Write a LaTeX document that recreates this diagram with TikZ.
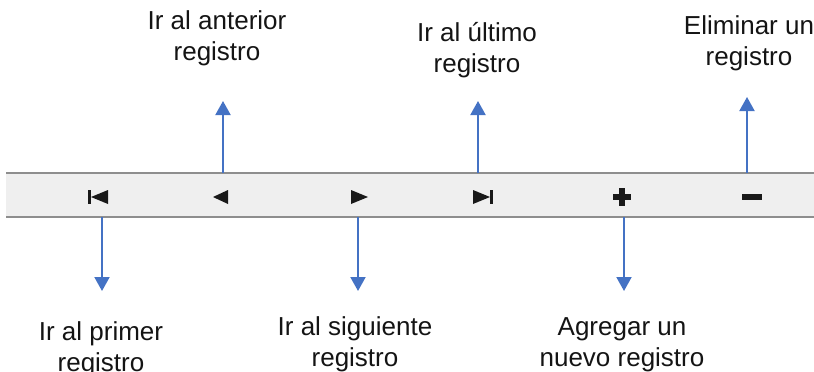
\documentclass[tikz,border=0pt]{standalone}
\usepackage{fontspec}
\setmainfont{Liberation Sans}
\usetikzlibrary{arrows.meta}
\definecolor{arrowblue}{HTML}{4472C4}
\definecolor{barfill}{HTML}{EFEFEF}
\definecolor{barline}{HTML}{8E8E8E}
\begin{document}
\begin{tikzpicture}[x=1pt,y=-1pt,
  lbl/.style={align=center,anchor=base,inner sep=0pt,font=\fontsize{26}{31}\selectfont,text=black!92},
  icon/.style={fill=black!90,draw=none},
  conn/.style={draw=arrowblue,line width=2pt,-{Triangle[length=14pt,width=15pt]}}]
\useasboundingbox (0,0) rectangle (814,372);
% toolbar
\fill[barfill] (6,173) rectangle (814,217);
\draw[barline,line width=2.5pt] (6,173) -- (814,173);
\draw[barline,line width=2.5pt] (6,217) -- (814,217);
% icons
\fill[icon] (88,190) rectangle (91,204);
\fill[icon] (91,197) -- (108,190) -- (108,204) -- cycle;
\fill[icon] (213,197) -- (228,190) -- (228,204) -- cycle;
\fill[icon] (368,197) -- (351,190) -- (351,204) -- cycle;
\fill[icon] (490,197) -- (473,190) -- (473,204) -- cycle;
\fill[icon] (490,190) rectangle (493,204);
\fill[icon] (619,188) rectangle (625,206);
\fill[icon] (613,194) rectangle (631,200);
\fill[icon] (742,194) rectangle (762,200);
% labels (anchor = baseline of last line)
\node[lbl] (lanterior) at (217,60) {Ir al anterior\\registro};
\node[lbl] (lultimo) at (477,72) {Ir al último\\registro};
\node[lbl] (leliminar) at (749,65) {Eliminar un\\registro};
\node[lbl] (lprimer) at (101,371) {Ir al primer\\registro};
\node[lbl] (lsiguiente) at (355,366) {Ir al siguiente\\registro};
\node[lbl] (lagregar) at (622,366) {Agregar un\\nuevo registro};
% arrow endpoints
\coordinate (tanterior) at (223,101);
\coordinate (tultimo) at (478,101);
\coordinate (teliminar) at (747,97);
\coordinate (tprimer) at (102,291);
\coordinate (tsiguiente) at (358,291);
\coordinate (tagregar) at (624,291);
\coordinate (santerior) at (223,173);
\coordinate (sultimo) at (478,173);
\coordinate (seliminar) at (747,173);
\coordinate (sprimer) at (102,217);
\coordinate (ssiguiente) at (358,217);
\coordinate (sagregar) at (624,217);
\draw[conn] (santerior) -- (tanterior);
\draw[conn] (sultimo) -- (tultimo);
\draw[conn] (seliminar) -- (teliminar);
\draw[conn] (sprimer) -- (tprimer);
\draw[conn] (ssiguiente) -- (tsiguiente);
\draw[conn] (sagregar) -- (tagregar);
\end{tikzpicture}
\end{document}
